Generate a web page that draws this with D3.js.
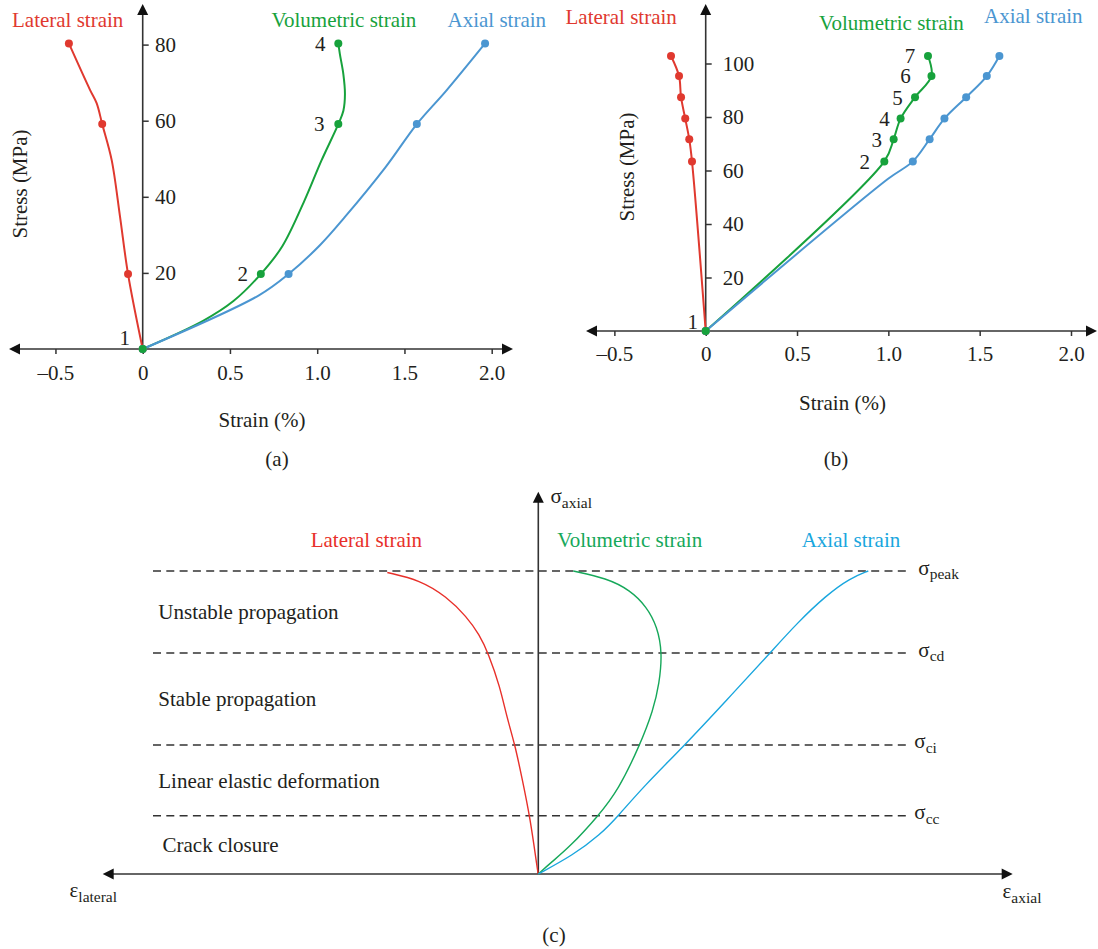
<!DOCTYPE html>
<html>
<head>
<meta charset="utf-8">
<script src="https://cdn.jsdelivr.net/npm/d3@7"></script>
<style>
  body { margin: 0; background: #fff; }
  text { font-family: 'Liberation Serif', 'DejaVu Serif', serif; fill: #231f20; }
</style>
</head>
<body>
<div id="chart"></div>
<script>
// ---- panel (a) data ----
const stressA = [0, 19.7, 59.1, 80.3];
const latA = [0, -0.084, -0.232, -0.423];
const volA = [0, 0.677, 1.121, 1.121];
const axA = [0, 0.836, 1.571, 1.962];
const latLineA = [[0, 0], [-0.084, 19.7], [-0.130, 34.8], [-0.178, 49.7], [-0.232, 59.1], [-0.264, 64.6], [-0.302, 68.1], [-0.423, 80.3]];
const volLineA = [[0, 0], [0.346, 7.4], [0.52, 12.6], [0.677, 19.7], [0.80, 27.0], [0.927, 39], [1.024, 49.5],
                  [1.121, 59.1], [1.150, 62.6], [1.159, 67], [1.150, 72.2], [1.130, 77.5], [1.121, 80.3]];
const axLineA = [[0, 0], [0.666, 14.1], [0.836, 19.7], [1.014, 27.2], [1.159, 34.7], [1.392, 47.8], [1.571, 59.1], [1.740, 67.9], [1.962, 80.3]];
const xTicksA = [-0.5, 0, 0.5, 1.0, 1.5, 2.0];
const yTicksA = [20, 40, 60, 80];

// ---- panel (b) data ----
const stressB = [0, 63.4, 71.7, 79.4, 87.4, 95.3, 102.8];
const latB = [0, -0.075, -0.090, -0.112, -0.135, -0.146, -0.190];
const volB = [0, 0.978, 1.029, 1.067, 1.146, 1.236, 1.217];
const axB = [0, 1.134, 1.226, 1.307, 1.426, 1.539, 1.608];
const axExtraB = [[0.997, 56.8]];
const xTicksB = [-0.5, 0, 0.5, 1.0, 1.5, 2.0];
const yTicksB = [20, 40, 60, 80, 100];

// ---- panel (c) data (schematic, stress normalised to peak) ----
const levelsC = [1, 0.729, 0.426, 0.192];
const levelNames = ["peak", "cd", "ci", "cc"];
const stageNames = ["Unstable propagation", "Stable propagation", "Linear elastic deformation", "Crack closure"];
const latC = [[0, 0], [-0.006, 0.008], [-0.083, 0.189], [-0.166, 0.321], [-0.233, 0.426], [-0.316, 0.519], [-0.383, 0.618],
              [-0.50, 0.729], [-0.59, 0.790], [-0.716, 0.849], [-0.916, 0.915], [-1.183, 0.970], [-1.51, 0.995]];
const volC = [[0, 0], [0.117, 0.035], [0.317, 0.090], [0.60, 0.192], [0.80, 0.277], [1.017, 0.426], [1.15, 0.541], [1.21, 0.629],
              [1.24, 0.729], [1.19, 0.816], [1.084, 0.882], [0.917, 0.937], [0.684, 0.976], [0.35, 1.0]];
const axC = [[0, 0], [0.35, 0.063], [0.617, 0.129], [0.80, 0.192], [1.05, 0.288], [1.467, 0.426], [1.884, 0.574], [2.317, 0.729],
             [2.584, 0.827], [2.884, 0.921], [3.117, 0.976], [3.30, 1.0]];

const seriesNames = ["Lateral strain", "Volumetric strain", "Axial strain"];
const colorsAB = ["#e0392f", "#17a23c", "#4b96d1"];
const colorsC = ["#e8302a", "#16a85a", "#19a6de"];

const FONT = "'Liberation Serif', 'DejaVu Serif', serif";
const AXIS = "#333";

const svg = d3.select("#chart").append("svg")
  .attr("width", 1098).attr("height", 949)
  .style("background", "#fff");

function arrowHead(g, x, y, dir) {
  const L = 11, H = 5.5;
  let pts;
  if (dir === "left") pts = [[x, y], [x + L, y - H], [x + L, y + H]];
  else if (dir === "right") pts = [[x, y], [x - L, y - H], [x - L, y + H]];
  else pts = [[x, y], [x - H, y + L], [x + H, y + L]];
  g.append("path").attr("d", "M" + pts.join("L") + "Z").attr("fill", "#111");
}

function fmtTick(d) {
  if (d === 0) return "0";
  return d3.format(".1f")(d).replace("−", "–");
}

function styleAxis(sel) {
  sel.select(".domain").remove();
  sel.attr("font-family", FONT).attr("font-size", 21);
  sel.selectAll(".tick line").attr("stroke", AXIS).attr("stroke-width", 1.5);
}

function addText(g, x, y, txt, opts) {
  opts = opts || {};
  const t = g.append("text").attr("x", x).attr("y", y).attr("dy", "0.35em")
    .attr("font-size", opts.size || 21)
    .attr("text-anchor", opts.anchor || "start")
    .text(txt);
  if (opts.color) t.style("fill", opts.color);
  if (opts.rotate) t.attr("transform", `rotate(-90,${x},${y})`);
  return t;
}

function drawPanel(p) {
  const g = svg.append("g");
  const x = p.x, y = p.y;
  const x0 = x(0), y0 = y(0);

  g.append("g").attr("transform", `translate(0,${y0})`)
    .call(d3.axisBottom(x).tickValues(p.xTicks).tickSize(5).tickPadding(p.xPad).tickFormat(fmtTick))
    .call(styleAxis);
  g.append("g").attr("transform", `translate(${x0},0)`)
    .call(d3.axisRight(y).tickValues(p.yTicks).tickSize(6).tickPadding(p.yPad))
    .call(styleAxis);

  // axis lines with arrow heads
  g.append("line").attr("x1", p.left + 8).attr("x2", p.right - 8).attr("y1", y0).attr("y2", y0)
    .attr("stroke", AXIS).attr("stroke-width", 1.6);
  g.append("line").attr("x1", x0).attr("x2", x0).attr("y1", y0).attr("y2", p.top + 8)
    .attr("stroke", AXIS).attr("stroke-width", 1.6);
  arrowHead(g, p.left, y0, "left");
  arrowHead(g, p.right, y0, "right");
  arrowHead(g, x0, p.top, "up");

  const line = d3.line().x(d => x(d[0])).y(d => y(d[1])).curve(d3.curveCatmullRom.alpha(0.5));

  p.series.forEach((s, i) => {
    g.append("path").attr("d", line(s.line)).attr("fill", "none")
      .attr("stroke", colorsAB[i]).attr("stroke-width", 2);
  });
  // volumetric dots last so the shared origin dot is green
  [0, 2, 1].forEach(i => {
    const s = p.series[i];
    g.selectAll(".dot" + i).data(s.strain.map((v, j) => [v, p.stress[j]])).enter()
      .append("circle").attr("class", "dot" + i)
      .attr("cx", d => x(d[0])).attr("cy", d => y(d[1])).attr("r", 4)
      .attr("fill", colorsAB[i]);
  });

  // step numbers next to the volumetric points
  const vol = p.series[1].strain;
  vol.forEach((v, j) => {
    const off = p.labelOff[j];
    addText(g, x(v) + off[0], y(p.stress[j]) + off[1], String(j + 1), { anchor: "middle" });
  });

  p.heads.forEach((h, i) => addText(g, h[0], h[1], seriesNames[i], { color: colorsAB[i] }));
  addText(g, p.yLabel[0], p.yLabel[1], "Stress (MPa)", { anchor: "middle", rotate: true });
  addText(g, p.xLabel[0], p.xLabel[1], "Strain (%)", { anchor: "middle" });
  addText(g, p.tag[0], p.tag[1], p.tagText, { anchor: "middle" });
}

// ---- panel (a) ----
drawPanel({
  x: d3.scaleLinear().domain([0, 2]).range([142.7, 491.7]),
  y: d3.scaleLinear().domain([0, 80]).range([349, 44.6]),
  xTicks: xTicksA, yTicks: yTicksA, xPad: 11, yPad: 6.3,
  left: 9, right: 513, top: 4,
  stress: stressA,
  series: [
    { strain: latA, line: latLineA },
    { strain: volA, line: volLineA },
    { strain: axA, line: axLineA }
  ],
  labelOff: [[-18, -11], [-18, 0], [-19, 0], [-18, 0]],
  heads: [[12, 20], [271.5, 20], [447.5, 20]],
  yLabel: [20, 184], xLabel: [262, 420], tag: [277, 459], tagText: "(a)"
});

// ---- panel (b) ----
const lineOf = (strain, stress, extra) =>
  strain.map((v, j) => [v, stress[j]]).concat(extra || []).sort((a, b) => a[1] - b[1]);

drawPanel({
  x: d3.scaleLinear().domain([0, 2]).range([705.7, 1071]),
  y: d3.scaleLinear().domain([0, 100]).range([331, 63.5]),
  xTicks: xTicksB, yTicks: yTicksB, xPad: 10, yPad: 11,
  left: 586, right: 1097, top: 4,
  stress: stressB,
  series: [
    { strain: latB, line: lineOf(latB, stressB) },
    { strain: volB, line: lineOf(volB, stressB) },
    { strain: axB, line: lineOf(axB, stressB, axExtraB) }
  ],
  labelOff: [[-13, -9], [-19.5, 0], [-17, 0], [-16, 0], [-17.5, 0], [-26, 0], [-18, 0]],
  heads: [[565.5, 17], [819, 23], [984, 16]],
  yLabel: [627, 167], xLabel: [842.5, 403], tag: [836, 459], tagText: "(b)"
});

// ---- panel (c) ----
(function () {
  const g = svg.append("g");
  const x = d3.scaleLinear().domain([-4.356, 4.744]).range([102.7, 1012.7]);
  const y = d3.scaleLinear().domain([0, 1]).range([874, 571]);
  const x0 = x(0), y0 = y(0);

  // stage boundaries
  g.selectAll(".level").data(levelsC).enter().append("line")
    .attr("x1", 153).attr("x2", 907)
    .attr("y1", d => y(d)).attr("y2", d => y(d))
    .attr("stroke", "#333").attr("stroke-width", 1.5).attr("stroke-dasharray", "8,5.3");

  // axes
  g.append("line").attr("x1", x.range()[0] + 8).attr("x2", x.range()[1] - 8).attr("y1", y0).attr("y2", y0)
    .attr("stroke", AXIS).attr("stroke-width", 1.6);
  g.append("line").attr("x1", x0).attr("x2", x0).attr("y1", y0).attr("y2", 500)
    .attr("stroke", AXIS).attr("stroke-width", 1.6);
  arrowHead(g, x.range()[0], y0, "left");
  arrowHead(g, x.range()[1], y0, "right");
  arrowHead(g, x0, 491.7, "up");

  const line = d3.line().x(d => x(d[0])).y(d => y(d[1])).curve(d3.curveBasis);
  [latC, volC, axC].forEach((s, i) => {
    g.append("path").attr("d", line(s)).attr("fill", "none")
      .attr("stroke", colorsC[i]).attr("stroke-width", 1.4);
  });

  // stage labels, centred between boundaries
  const bounds = levelsC.concat([0]);
  stageNames.forEach((name, i) => {
    const mid = (bounds[i] + bounds[i + 1]) / 2;
    addText(g, i === 3 ? 162.5 : 158.3, y(mid), name);
  });

  const headsC = [[310.7, 540], [557.3, 540], [801.7, 540]];
  headsC.forEach((h, i) => addText(g, h[0], h[1], seriesNames[i], { color: colorsC[i] }));

  function symLabel(xp, base, sym, sub) {
    const t = g.append("text").attr("x", xp).attr("y", base).attr("font-size", 21);
    t.append("tspan").text(sym);
    t.append("tspan").attr("font-size", 15.5).attr("dy", 4.5).text(sub);
  }
  symLabel(550.5, 503.3, "σ", "axial");
  const symX = [918.3, 918.3, 914.3, 914.3];
  levelsC.forEach((lv, i) => symLabel(symX[i], y(lv) + 3.5, "σ", levelNames[i]));
  symLabel(1002.5, 898, "ε", "axial");
  symLabel(69.5, 897, "ε", "lateral");

  addText(g, 554, 935, "(c)", { anchor: "middle" });
})();
</script>
</body>
</html>
